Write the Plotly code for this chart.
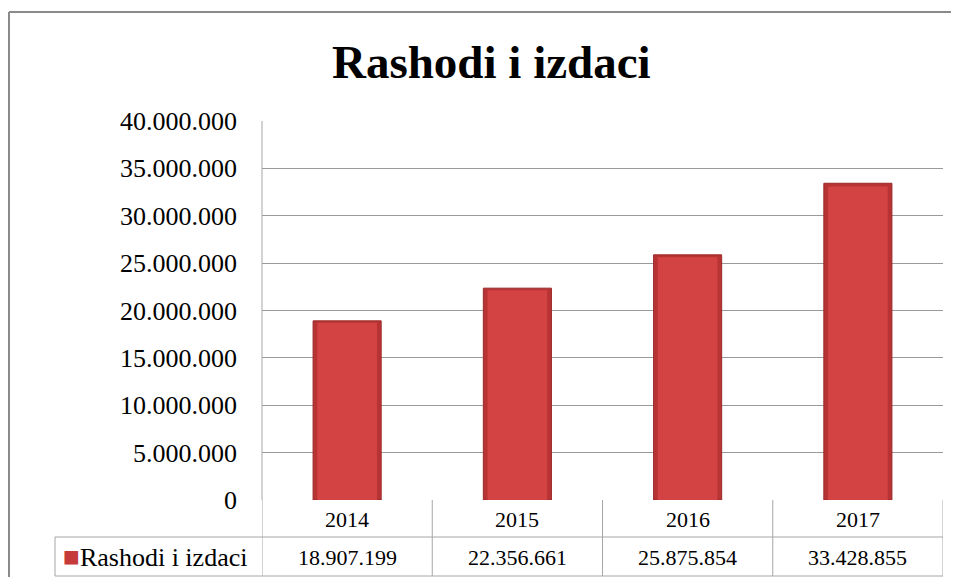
import plotly.graph_objects as go

title_text = "Rashodi i izdaci"
series_name = "Rashodi i izdaci"
years = ["2014", "2015", "2016", "2017"]
values = [18907199, 22356661, 25875854, 33428855]
y_ticks = [0, 5000000, 10000000, 15000000, 20000000, 25000000, 30000000, 35000000, 40000000]


def fmt(v):
    return f"{v:,}".replace(",", ".")


# page has an 8px body margin; figure sized to fit the 959x585 window without scrollbars
OFF = 8
W, H = 959 - OFF, 585 - 2 * OFF
PL, PT, PR, PB = 262, 121, 943, 500  # plot area in page pixels
L, T = PL - OFF, PT - OFF
R, B = W - (PR - OFF), H - (PB - OFF)
pw, ph = PR - PL, PB - PT


def px_x(x):
    return (x - PL) / pw


def px_y(y):
    return (PB - y) / ph


FONT = "Liberation Serif, Times New Roman, serif"
grid_c = "#9a9a9a"
tab_c = "#a6a6a6"

fig = go.Figure()
fig.add_trace(go.Bar(x=years, y=values, width=0.4, marker=dict(color="#b83333", line=dict(color="#9a2a2a", width=1)),
                     showlegend=False, hoverinfo="skip"))
fig.add_trace(go.Bar(x=years, y=[v * 0.99 for v in values], width=0.35,
                     marker=dict(color="#d44343", line=dict(width=0)), showlegend=False,
                     name=series_name))

shapes = []
# outer chart border (top and left)
shapes.append(dict(type="line", xref="paper", yref="paper", x0=px_x(9), x1=px_x(970), y0=px_y(12), y1=px_y(12),
                   line=dict(color="#8a8a8a", width=2)))
shapes.append(dict(type="line", xref="paper", yref="paper", x0=px_x(9), x1=px_x(9), y0=px_y(12), y1=px_y(600),
                   line=dict(color="#8a8a8a", width=2)))
# table lines
for k in range(len(years) + 1):
    shapes.append(dict(type="line", xref="x", yref="paper", x0=k - 0.5, x1=k - 0.5, y0=0, y1=px_y(576),
                       line=dict(color=tab_c, width=1)))
shapes.append(dict(type="line", xref="paper", yref="paper", x0=px_x(55), x1=1, y0=px_y(537), y1=px_y(537),
                   line=dict(color=tab_c, width=1)))
shapes.append(dict(type="line", xref="paper", yref="paper", x0=px_x(55), x1=1, y0=px_y(576), y1=px_y(576),
                   line=dict(color=tab_c, width=1)))
shapes.append(dict(type="line", xref="paper", yref="paper", x0=px_x(55), x1=px_x(55), y0=px_y(537), y1=px_y(576),
                   line=dict(color=tab_c, width=1)))
shapes.append(dict(type="line", xref="paper", yref="paper", x0=0, x1=0, y0=1, y1=0,
                   line=dict(color=tab_c, width=1)))

annotations = []
for i, (yr, v) in enumerate(zip(years, values)):
    annotations.append(dict(x=i, xref="x", y=px_y(519), yref="paper", text=yr, showarrow=False,
                            font=dict(family=FONT, size=22, color="#000"), yanchor="middle"))
    annotations.append(dict(x=i, xref="x", y=px_y(557), yref="paper", text=fmt(v), showarrow=False,
                            font=dict(family=FONT, size=22, color="#000"), yanchor="middle"))
annotations.append(dict(x=px_x(61), xref="paper", y=px_y(556), yref="paper", xanchor="left", yanchor="middle",
                        text=f"<span style='color:#c63a3a;font-size:28px'>■</span>{series_name}", showarrow=False,
                        font=dict(family=FONT, size=26, color="#000")))
annotations.append(dict(x=px_x(491), xref="paper", y=px_y(62), yref="paper", yanchor="middle",
                        text=f"<b>{title_text}</b>", showarrow=False,
                        font=dict(family=FONT, size=47, color="#000")))

fig.update_layout(
    width=W, height=H,
    margin=dict(l=L, r=R, t=T, b=B),
    paper_bgcolor="white", plot_bgcolor="white",
    barmode="overlay",
    xaxis=dict(type="category", range=[-0.5, 3.5], showticklabels=False, showgrid=False, zeroline=False,
               showline=False, ticks=""),
    yaxis=dict(range=[0, 40000000], tickvals=y_ticks, ticktext=[fmt(t) for t in y_ticks],
               showgrid=True, gridcolor=grid_c, gridwidth=1, zeroline=False, showline=False, ticks="",
               ticklabelstandoff=24, tickfont=dict(family=FONT, size=26, color="#000")),
    shapes=shapes,
    annotations=annotations,
    showlegend=False,
)

fig.write_html("out.html")
